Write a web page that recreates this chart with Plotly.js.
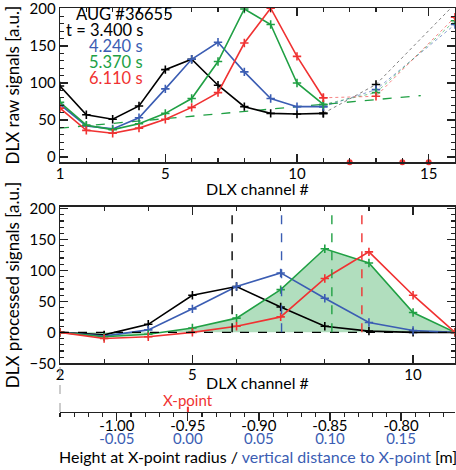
<!DOCTYPE html>
<html><head><meta charset="utf-8">
<script src="https://cdn.plot.ly/plotly-3.0.1.min.js"></script>
<style>body{margin:0;background:#fff}#chart{width:456px;height:470px}</style>
</head><body><div id="chart"></div>
<script>
// ---- top panel: raw signals ----
const channels = [1,2,3,4,5,6,7,8,9,10,11];
const rawBlack = [96,57,51,69,118,132,97,68,59,58,59];
const rawBlue  = [71,42,38,53,92,132,155,115,79,68,68];
const rawGreen = [74,43,37,45,59,79,129,200,179,100,71];
const rawRed   = [66,36,32,39,51,67,87,154,201,136,80];
const extraChannels = [11,13,16];
const extraBlack = [59,98,207];
const extraBlue  = [68,91,179];
const extraGreen = [71,87,184];
const extraRed   = [80,82,189];
const badChannels = [12,14,15];
const badValues = [-7,-7,-7];
const baseX = [1,14.7];
const baseY = [39,83];
// ---- bottom panel: processed signals ----
const procChannels = [2,3,4,5,6,7,8,9,10,10.95];
const procBlack = [0,-4,13,60,74,41,10,2,0,0];
const procBlue  = [0,-6,4,38,74,96,55,16,3,0];
const procGreen = [0,-7,-3,7,23,69,135,112,32,0];
const procRed   = [0,-10,-7,0,10,25,87,130,60,0];
const centroids = [5.90,7.02,8.16,8.84];
// ---- height axis ----
const heightTicks = [-1.00,-0.95,-0.90,-0.85,-0.80];
const distTicks = ['-0.05','0.00','0.05','0.10','0.15'];
const xPointHeight = -0.95;
const times = ['t = 3.400 s','4.240 s','5.370 s','6.110 s'];

const C = {k:'#000000', b:'#3b5db3', g:'#20a044', r:'#f03232'};
const cols = [C.k,C.b,C.g,C.r];
const dotCols = ['rgba(0,0,0,0.5)','rgba(59,93,179,0.6)','rgba(32,160,68,0.6)','rgba(240,50,50,0.6)'];
const FONT = 'Lato, "Open Sans", sans-serif';
const mk = c => ({symbol:'cross-thin', size:6, line:{color:c, width:1.6}, color:c});

const traces = [];
traces.push({x:baseX, y:baseY, xaxis:'x', yaxis:'y', mode:'lines', line:{color:C.g, dash:'dash', width:1.3}, hoverinfo:'skip'});
const raws = [rawBlack, rawBlue, rawGreen, rawRed];
const extras = [extraBlack, extraBlue, extraGreen, extraRed];
for (let i=0;i<4;i++){
  traces.push({x:extraChannels, y:extras[i], xaxis:'x', yaxis:'y', mode:'lines+markers', line:{color:dotCols[i], dash:'dot', width:1}, marker:mk(cols[i])});
}
for (let i=0;i<4;i++){
  traces.push({x:channels, y:raws[i], xaxis:'x', yaxis:'y', mode:'lines+markers', line:{color:cols[i], width:1.6}, marker:mk(cols[i])});
}
traces.push({x:badChannels, y:badValues, xaxis:'x', yaxis:'y', mode:'markers', marker:{symbol:'circle', size:6, color:C.r}, cliponaxis:false});

traces.push({x:procChannels, y:procGreen, xaxis:'x2', yaxis:'y2', mode:'none', fill:'tozeroy', fillcolor:'rgba(32,160,68,0.35)', hoverinfo:'skip'});
const procs = [procBlack, procBlue, procGreen, procRed];
for (let i=0;i<4;i++){
  traces.push({x:procChannels, y:procs[i], xaxis:'x2', yaxis:'y2', mode:'lines+markers', line:{color:cols[i], width:1.6}, marker:mk(cols[i])});
}
traces.push({x:[xPointHeight,xPointHeight], y:[0,0.13], xaxis:'x3', yaxis:'y3', mode:'lines', line:{color:C.r, width:2}, cliponaxis:false, hoverinfo:'skip'});
traces.push({x:[xPointHeight], y:[0.5], xaxis:'x4', yaxis:'y3', mode:'markers', marker:{opacity:0}, hoverinfo:'skip'});

const Y2TOP = 203;
const shapes = [
  {type:'line', xref:'x2 domain', x0:0, x1:1, yref:'y2', y0:0, y1:0, line:{color:'#000', dash:'dash', width:1.3}},
  {type:'line', xref:'paper', x0:0, x1:0, yref:'paper', y0:0, y1:0.1205, line:{color:'#999', dash:'dash', width:1}}
];
centroids.forEach((c,i)=>shapes.push({type:'line', xref:'x2', x0:c, x1:c, yref:'y2', y0:0, y1:Y2TOP, line:{color:cols[i], dash:'dash', width:1.4}}));

const frame = {showline:true, linecolor:'#222', linewidth:1.3, mirror:'allticks', ticks:'inside', ticklen:8, tickwidth:1.2, tickcolor:'#222', showgrid:false, zeroline:false, ticklabeloverflow:'allow', tickfont:{size:15, family:FONT, color:'#000'}};
const minorX = {tickmode:'linear', tick0:0, dtick:1, ticks:'inside', ticklen:4, tickcolor:'#222'};
const minorY = {tickmode:'linear', tick0:0, dtick:10, ticks:'inside', ticklen:4, tickcolor:'#222'};

const ann = (x,y,text,color,anchor,size) => ({xref:'paper', yref:'paper', x:x, y:y, text:text, showarrow:false, xanchor:anchor||'center', yanchor:'middle', font:{size:size||16, color:color||'#000', family:FONT}});
const annotations = [
  ann(0.0354, 0.985, 'AUG #36655', '#000', 'left', 16.5),
  ann(0.215, 0.9455, times[0], C.k, 'right', 16.5),
  ann(0.215, 0.906, times[1], C.b, 'right', 16.5),
  ann(0.215, 0.8663, times[2], C.g, 'right', 16.5),
  ann(0.215, 0.8267, times[3], C.r, 'right', 16.5),
  ann(0.501, 0.5532, 'DLX channel #'),
  ann(0.501, 0.0725, 'DLX channel #'),
  {xref:'x3', yref:'paper', x:xPointHeight, y:0.0297, text:'X-point', showarrow:false, xanchor:'center', yanchor:'middle', font:{size:15, color:C.r, family:FONT}},
  ann(0.501, -0.1099, 'Height at X-point radius / <span style="color:'+C.b+'">vertical distance to X-point</span> [m]', '#000', 'center', 16)
];

const layout = {
  width:456, height:470, margin:{l:60, r:1, t:8, b:58},
  paper_bgcolor:'#fff', plot_bgcolor:'rgba(0,0,0,0)', showlegend:false,
  font:{family:FONT, color:'#000'},
  xaxis: Object.assign({}, frame, {domain:[0,1], anchor:'y', range:[1,16], tickmode:'array', tickvals:[1,5,10,15], minor:minorX, ticklabelstandoff:-3}),
  yaxis: Object.assign({}, frame, {domain:[0.618,1], anchor:'x', range:[-7.2,201.3], tickmode:'array', tickvals:[0,50,100,150,200], minor:minorY, title:{text:'DLX raw signals [a.u.]', font:{size:17, family:FONT}, standoff:5}}),
  xaxis2: Object.assign({}, frame, {domain:[0,1], anchor:'y2', range:[2,10.95], tickmode:'array', tickvals:[2,5,10], minor:minorX, ticklabelstandoff:-3}),
  yaxis2: Object.assign({}, frame, {domain:[0.1205,0.5082], anchor:'x2', range:[-50,Y2TOP], tickmode:'array', tickvals:[-50,0,50,100,150,200], minor:minorY, title:{text:'DLX processed signals [a.u.]', font:{size:17, family:FONT}, standoff:5}}),
  xaxis3: {domain:[0,1], anchor:'y3', range:[-1.040,-0.762], tickmode:'array', tickvals:heightTicks,
    ticktext: heightTicks.map(h=>h.toFixed(2)),
    ticks:'outside', ticklen:8, tickwidth:1.2, tickcolor:'#222', showline:true, linecolor:'#222', linewidth:1.3, showgrid:false, zeroline:false,
    ticklabelstandoff:-8, ticklabeloverflow:'allow',
    tickfont:{size:15, family:FONT, color:'#000'},
    minor:{tickmode:'linear', tick0:0, dtick:0.01, ticks:'outside', ticklen:4, tickcolor:'#222'}},
  xaxis4: {overlaying:'x3', anchor:'free', position:0, side:'bottom', range:[-1.040,-0.762], tickmode:'array', tickvals:heightTicks,
    ticktext: distTicks, ticks:'', showline:false, showgrid:false, zeroline:false,
    ticklabelstandoff:16, ticklabeloverflow:'allow',
    tickfont:{size:15, family:FONT, color:C.b}},
  yaxis3: {domain:[0,0.1], anchor:'x3', range:[0,1], visible:false, fixedrange:true},
  shapes: shapes, annotations: annotations
};
Plotly.newPlot('chart', traces, layout, {displayModeBar:false, staticPlot:true});
</script></body></html>
